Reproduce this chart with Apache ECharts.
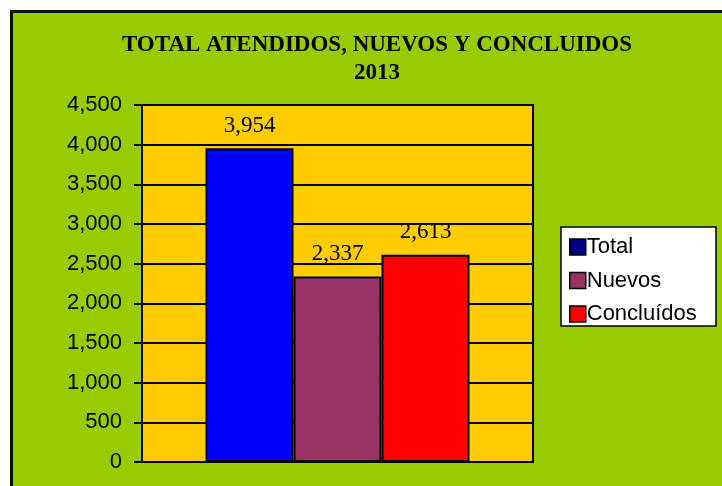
<!DOCTYPE html>
<html>
<head>
<meta charset="utf-8">
<script src="https://cdn.jsdelivr.net/npm/echarts@6/dist/echarts.min.js"></script>
<style>
    body { margin: 0; background: #fff; }
    #frame {
        position: absolute; left: 10px; top: 10px;
        width: 740px; height: 500px;
        background: #99cc00; border: 3px solid #111;
    }
    #main1 { position: absolute; left: 0; top: 0; width: 722px; height: 486px; }
</style>
</head>
<body>
<div id="frame"></div>
<div id="main1"></div>
<script>
// chart data
const categories = ["2013"];
const seriesNames = ["Total", "Nuevos", "Concluídos"];
const totalValues = [3954];
const nuevosValues = [2337];
const concluidosValues = [2613];
const barColors = ["#0000ff", "#993366", "#ff0000"];
const legendColors = ["#000080", "#993366", "#ff0000"];

let dom = document.getElementById("main1");
let myChart = echarts.init(dom, null, {
    renderer: "canvas",
    useDirtyRect: false,
});
let option;

const fmt = (v) => Number(v).toLocaleString("en-US");

function makeBar(i, values) {
    return {
        name: seriesNames[i],
        type: "bar",
        data: values,
        barWidth: 88,
        barGap: "0%",
        itemStyle: { color: barColors[i], borderColor: "#000", borderWidth: 2 },
        label: {
            show: true,
            position: "top",
            distance: 11,
            formatter: (p) => fmt(p.value),
            fontFamily: "Liberation Serif",
            fontSize: 23,
            color: "#000",
        },
    };
}

option = {
    animation: false,
    title: {
        text: "TOTAL ATENDIDOS, NUEVOS Y CONCLUIDOS\n2013",
        left: 372,
        textAlign: "center",
        top: 26,
        textStyle: {
            fontFamily: "Liberation Serif",
            fontWeight: "bold",
            fontSize: 23,
            lineHeight: 28,
            color: "#000",
        },
    },
    graphic: [{
        type: "rect",
        shape: { x: 561, y: 227, width: 155, height: 99 },
        style: { fill: "#fff", stroke: "#000", lineWidth: 1.5 },
        z: 0,
    }],
    legend: {
        orient: "vertical",
        left: 569,
        top: 236,
        padding: 0,
        itemWidth: 16,
        itemHeight: 16,
        itemGap: 11.5,
        icon: "rect",
        z: 5,
        data: seriesNames.map((n, i) => ({
            name: n,
            itemStyle: { color: legendColors[i], borderColor: "#000", borderWidth: 1.5 },
        })),
        textStyle: {
            fontFamily: "Liberation Sans",
            fontSize: 22,
            lineHeight: 22,
            color: "#000",
            padding: [0, 0, 0, -4],
        },
    },
    grid: {
        left: 142,
        top: 105,
        right: 189,
        bottom: 24,
        show: true,
        backgroundColor: "#ffcc00",
        borderColor: "#000",
        borderWidth: 2,
    },
    xAxis: {
        type: "category",
        data: categories,
        axisLabel: { show: false },
        axisTick: { show: false },
        axisLine: { lineStyle: { color: "#000", width: 2 } },
    },
    yAxis: {
        type: "value",
        min: 0,
        max: 4500,
        interval: 500,
        axisLine: { show: true, lineStyle: { color: "#000", width: 2 } },
        axisTick: { show: true, length: 8, lineStyle: { color: "#000", width: 2 } },
        splitLine: { lineStyle: { color: "#000", width: 2 } },
        axisLabel: {
            margin: 20,
            formatter: fmt,
            fontFamily: "Liberation Sans",
            fontSize: 22,
            color: "#000",
        },
    },
    series: [
        makeBar(0, totalValues),
        makeBar(1, nuevosValues),
        makeBar(2, concluidosValues),
    ],
};

if (option && typeof option === "object") {
    myChart.setOption(option);
}

window.addEventListener("resize", myChart.resize);
</script>
</body>
</html>
